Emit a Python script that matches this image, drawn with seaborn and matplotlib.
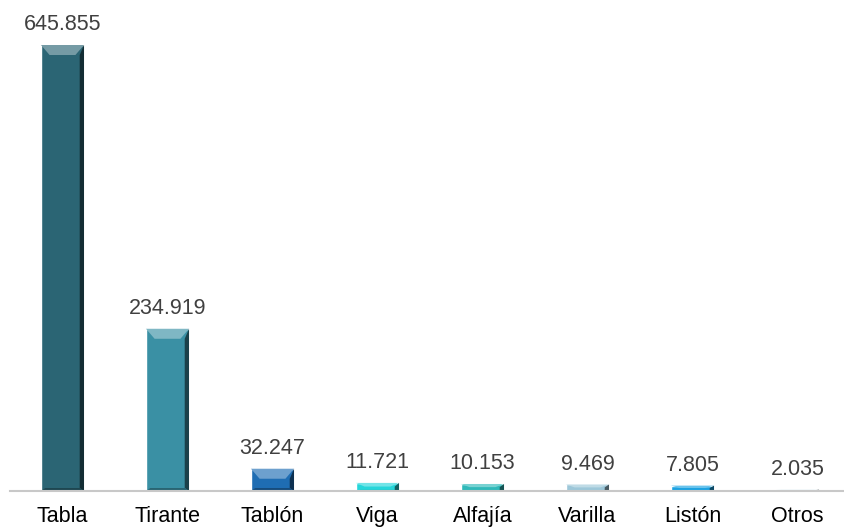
import matplotlib
matplotlib.use("Agg")
import matplotlib.pyplot as plt
import matplotlib.colors as mcolors
from matplotlib.patches import Polygon
import pandas as pd
import seaborn as sns

# Daten
categorias = ['Tabla', 'Tirante', 'Tablón', 'Viga', 'Alfajía', 'Varilla', 'Listón', 'Otros']
valores = [645855, 234919, 32247, 11721, 10153, 9469, 7805, 2035]
colores = ['#2b6574', '#3a90a4', '#1f6db3', '#25d6da', '#2fb9b9', '#9dc7d9', '#1ba2e2', '#d6eef6']

df = pd.DataFrame({'Categoria': categorias, 'Valor': valores})

sns.set_style('white')
plt.rcParams['font.family'] = ['Liberation Sans', 'DejaVu Sans']

fig = plt.figure(figsize=(8.44, 5.27), dpi=100)
# Achse: Grundlinie bei y=491 px, Kategorienabstand 105 px
ax = fig.add_axes([10 / 844, 36 / 527, 834 / 844, 481 / 527])

sns.barplot(data=df, x='Categoria', y='Valor', hue='Categoria', palette=colores,
            legend=False, width=0.41, ax=ax, saturation=1)

ax.set_ylim(0, 645855 * 481 / 446)
ax.set_xlim(-0.5, -0.5 + 834 / 105)

# Bevel-Effekt auf den Balken
px_y = ax.get_ylim()[1] / 481  # Daten pro Pixel in y
px_x = 1 / 105                 # Daten pro Pixel in x
for patch, c in zip(ax.patches, colores):
    x0, y0 = patch.get_x(), patch.get_y()
    w, h = patch.get_width(), patch.get_height()
    rgb = mcolors.to_rgb(c)
    hell = tuple(min(1, v + (1 - v) * 0.35) for v in rgb)
    dunkel = tuple(v * 0.45 for v in rgb)
    bv = min(10 * px_y, h * 0.45)
    bx = min(9 * px_x, w * 0.2)
    # oben
    ax.add_patch(Polygon([(x0, y0 + h), (x0 + w, y0 + h), (x0 + w - bx, y0 + h - bv),
                          (x0 + bx, y0 + h - bv)], closed=True, color=hell, lw=0))
    # rechts
    ax.add_patch(Polygon([(x0 + w, y0 + h), (x0 + w, y0), (x0 + w - bx * 0.5, y0 + bv * 0.3),
                          (x0 + w - bx * 0.5, y0 + h - bv)], closed=True, color=dunkel, lw=0))
    # unten
    ax.add_patch(Polygon([(x0, y0), (x0 + w, y0), (x0 + w - bx * 0.5, y0 + bv * 0.3),
                          (x0 + bx * 0.5, y0 + bv * 0.3)], closed=True,
                         color=tuple(v * 0.7 for v in rgb), lw=0))

# Beschriftung
for i, v in enumerate(valores):
    txt = f'{v:,}'.replace(',', '.')
    ax.annotate(txt, (i, v), xytext=(0, 7), textcoords='offset points',
                ha='center', va='bottom', fontsize=15.5, color='#404040')

sns.despine(ax=ax, left=True, top=True, right=True)
ax.spines['bottom'].set_color('#c8c8c8')
ax.spines['bottom'].set_linewidth(1.5)
ax.set_yticks([])
ax.set_xlabel('')
ax.set_ylabel('')
ax.tick_params(axis='x', length=0, pad=11, labelsize=15.5, labelcolor='black')

fig.savefig('out.png', dpi=100)
